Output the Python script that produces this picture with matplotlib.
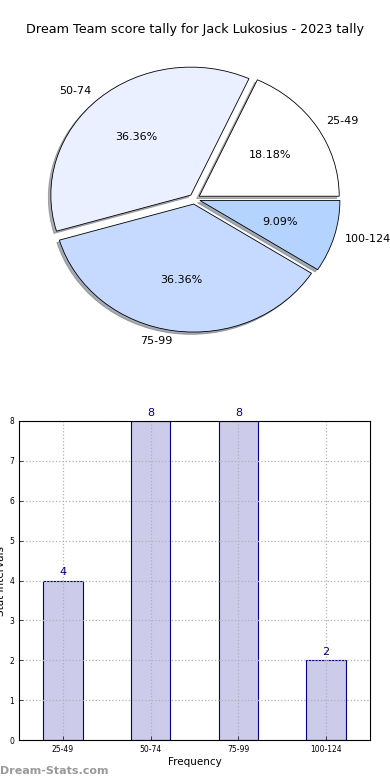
import matplotlib
matplotlib.use("Agg")
import matplotlib.pyplot as plt

categories = ["25-49", "50-74", "75-99", "100-124"]
counts = [4, 8, 8, 2]
pie_colors = ["#ffffff", "#eaf0ff", "#c6d9ff", "#b4d4ff"]
title = "Dream Team score tally for Jack Lukosius - 2023 tally"

fig = plt.figure(figsize=(3.9, 7.8), dpi=100)
W, H = 390, 780

fig.text(195 / W, 1 - 30 / H, title, ha="center", va="center", fontsize=9.2)

# pie axes
cx, cy, rx, ry = 194.5, 199, 140, 128
lim = 1.3
axp = fig.add_axes([(cx - lim * rx) / W, 1 - (cy + lim * ry) / H, 2 * lim * rx / W, 2 * lim * ry / H])
wedges, texts, autotexts = axp.pie(
    counts, labels=categories, colors=pie_colors, autopct="%1.2f%%",
    explode=[0.04] * 4, shadow=dict(ox=-0.013, oy=-0.013, shade=0.6), startangle=0, counterclock=True,
    labeldistance=1.08,
    wedgeprops=dict(edgecolor="black", linewidth=0.6),
    textprops=dict(fontsize=8))
axp.set_aspect("auto")
axp.set_xlim(-lim, lim)
axp.set_ylim(-lim, lim)

# bar axes
x0, x1, y0, y1 = 19, 370, 421, 740
axb = fig.add_axes([x0 / W, 1 - y1 / H, (x1 - x0) / W, (y1 - y0) / H])
pos = list(range(len(categories)))
bars = axb.bar(pos, counts, width=0.45, color="#ccccea", edgecolor="#000080", linewidth=0.8, zorder=2)
for p, c in zip(pos, counts):
    axb.text(p, c + 0.08, str(c), ha="center", va="bottom", color="#000080", fontsize=8)
axb.set_xlim(-0.5, 3.5)
axb.set_ylim(0, 8)
axb.set_xticks(pos)
axb.set_xticklabels(categories, fontsize=5.5)
axb.set_yticks(range(0, 9))
axb.tick_params(axis="y", labelsize=5.5, direction="in", length=3, width=0.5)
axb.tick_params(axis="x", direction="in", length=3, width=0.5)
axb.grid(True, linestyle=":", color="#b0b0b0", linewidth=0.9, zorder=3)
axb.set_axisbelow(False)
for s in axb.spines.values():
    s.set_linewidth(0.8)
    s.set_zorder(5)
axb.set_xlabel("Frequency", fontsize=7.5, labelpad=2)
axb.set_ylabel("Stat Intervals", fontsize=7.5, labelpad=2)

fig.text(0 / W, 1 - 771 / H, "Dream-Stats.com", ha="left", va="center",
         fontsize=8, color="#999999", fontweight="bold")

fig.savefig("out.png", dpi=100)
